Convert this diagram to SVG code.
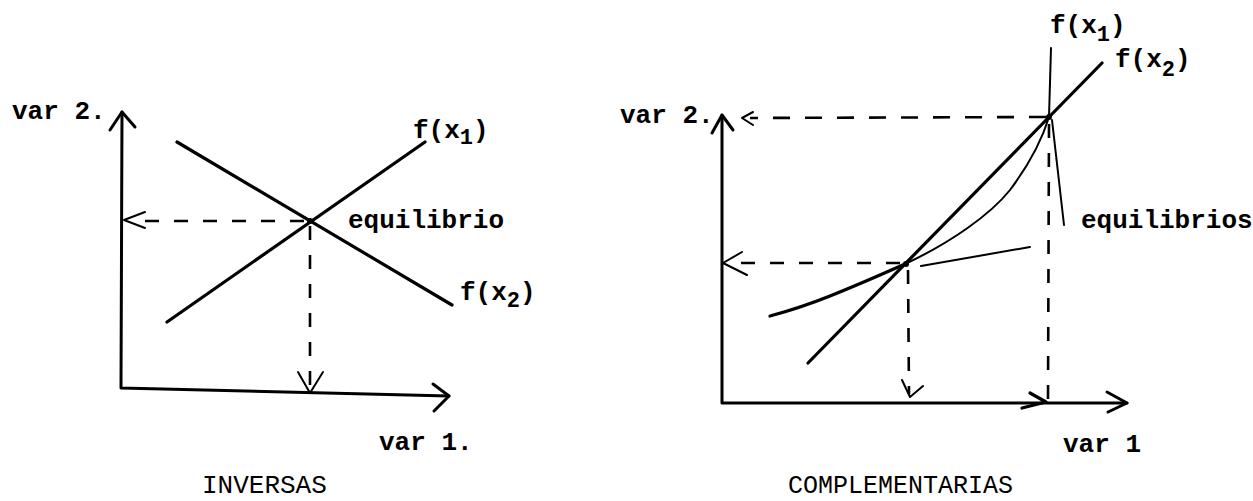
<svg xmlns="http://www.w3.org/2000/svg" width="1253" height="501" viewBox="0 0 1253 501">
<style>
.ax{fill:none;stroke:#000;stroke-width:3;stroke-linecap:round;stroke-linejoin:round}
.ln{fill:none;stroke:#000;stroke-width:3.2;stroke-linecap:round;stroke-linejoin:round}
.thin{fill:none;stroke:#000;stroke-width:2;stroke-linecap:round;stroke-linejoin:round}
.dash{fill:none;stroke:#000;stroke-width:2.6;stroke-dasharray:14 15}
.t{font-family:"Liberation Mono","Courier New",monospace;font-size:26px;font-weight:bold;fill:#000}
.sub{font-size:22px}
.cap{font-family:"Liberation Mono","Courier New",monospace;font-size:25px;fill:#000}
</style>
<rect width="1253" height="501" fill="#fff"/>
<g id="inversas">
  <g id="left-axes">
    <path class="ax" d="M122 112 L121 388 L449 396"/>
    <path class="ax" d="M110 130 L122 112 L135 127"/>
    <path class="ax" d="M433 384 L449 396 L434 411"/>
  </g>
  <g id="left-curves">
    <path class="ln" d="M177 142 L452 305"/>
    <path class="ln" d="M167 322 L425 142"/>
  </g>
  <g id="left-guides">
    <path class="dash" d="M304 221 L130 221"/>
    <path class="thin" d="M145 212 L124 220 L145 228"/>
    <path class="dash" d="M310 226 L310 390"/>
    <path class="thin" d="M298 372 L310 393 L323 372"/>
    <circle cx="310" cy="221" r="3"/>
  </g>
  <g id="left-labels">
    <text class="t" x="12" y="119">var 2.</text>
    <text class="t" x="413" y="138">f(x<tspan class="sub" dy="6">1</tspan><tspan dy="-6">)</tspan></text>
    <text class="t" x="348" y="228">equilibrio</text>
    <text class="t" x="460" y="300">f(x<tspan class="sub" dy="7">2</tspan><tspan dy="-7">)</tspan></text>
    <text class="t" x="379" y="450">var 1.</text>
    <text class="cap" x="202" y="493" style="font-size:26px">INVERSAS</text>
  </g>
</g>
<g id="complementarias">
  <g id="right-axes">
    <path class="ax" d="M722 115 L722 403 L1127 403"/>
    <path class="ax" d="M712 133 L722 115 L733 130"/>
    <path class="ax" d="M1107 392 L1127 403 L1108 412"/>
    <path class="ln" d="M1030 393 L1046 402 L1022 408"/>
  </g>
  <g id="right-curves">
    <path class="ln" d="M808 363 L1102 63"/>
    <path class="thin" d="M1051 48 L1049 117"/>
    <path class="thin" d="M905 264 C950 243 990 215 1010 190 C1028 166 1042 140 1049 117"/>
    <path class="ln" d="M770 316 Q800 308 830 296 T905 264"/>
    <path class="thin" d="M921 266 L1030 247"/>
    <path class="thin" d="M1052 120 L1064 225"/>
  </g>
  <g id="right-guides">
    <path class="dash" d="M1046 117 L750 118" style="stroke-dasharray:17 15"/>
    <path class="thin" d="M753 112 L742 118 L753 125"/>
    <path class="dash" d="M900 263 L728 263"/>
    <path class="thin" d="M742 252 L723 263 L747 275"/>
    <path class="dash" d="M908 270 L909 394"/>
    <path class="thin" d="M902 380 L910 397 L923 386"/>
    <path class="dash" d="M1049 124 L1048 400"/>
    <circle cx="1049" cy="117" r="3"/>
    <circle cx="906" cy="264" r="3"/>
  </g>
  <g id="right-labels">
    <text class="t" x="620" y="123">var 2.</text>
    <text class="t" x="1050" y="33">f(x<tspan class="sub" dy="8">1</tspan><tspan dy="-8">)</tspan></text>
    <text class="t" x="1115" y="67">f(x<tspan class="sub" dy="9">2</tspan><tspan dy="-9">)</tspan></text>
    <text class="t" x="1081" y="228">equilibrios</text>
    <text class="t" x="1063" y="452">var 1</text>
    <text class="cap" x="788" y="493">COMPLEMENTARIAS</text>
  </g>
</g>
</svg>
